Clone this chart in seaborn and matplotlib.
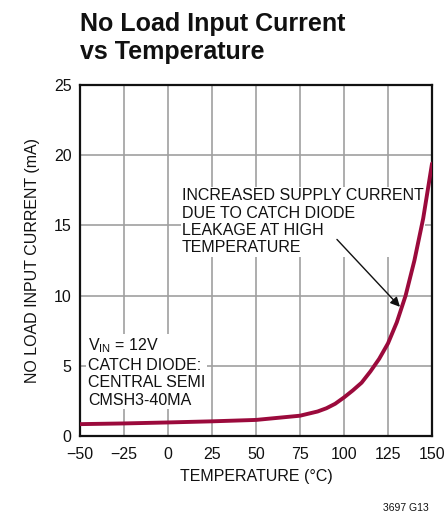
import matplotlib
matplotlib.use("Agg")
import matplotlib.pyplot as plt
import seaborn as sns
import pandas as pd

temperature = [-50, -25, 0, 25, 50, 75, 85, 90, 95, 100, 105, 110, 115, 120, 125, 130, 135, 140, 145, 150]
current_ma = [0.85, 0.9, 0.97, 1.05, 1.15, 1.45, 1.75, 1.98, 2.3, 2.75, 3.25, 3.8, 4.6, 5.5, 6.6, 8.1, 10.0, 12.5, 15.5, 19.4]
x_ticks = [-50, -25, 0, 25, 50, 75, 100, 125, 150]
x_tick_labels = ["\u221250", "\u221225", "0", "25", "50", "75", "100", "125", "150"]
y_ticks = [0, 5, 10, 15, 20, 25]

sns.set_style("white")
plt.rcParams['font.family'] = ['Liberation Sans', 'DejaVu Sans']

fig = plt.figure(figsize=(4.44, 5.21), dpi=100)
ax = fig.add_axes([0.180, 0.163, 0.793, 0.674])

df = pd.DataFrame({"T": temperature, "I": current_ma})
sns.lineplot(data=df, x="T", y="I", ax=ax, color="#9B0A3C", linewidth=2.8, zorder=5)

ax.set_xlim(-50, 150)
ax.set_ylim(0, 25)
ax.set_xticks(x_ticks)
ax.set_yticks(y_ticks)
ax.set_xticklabels(x_tick_labels)
ax.tick_params(axis="both", labelsize=11.5, length=0, colors="#111111")
ax.tick_params(axis="x", pad=8)
ax.tick_params(axis="y", pad=6)
ax.grid(True, color="#a0a0a0", linewidth=1.2, zorder=0)
for s in ax.spines.values():
    s.set_color("#111111")
    s.set_linewidth(1.6)
ax.set_xlabel("TEMPERATURE (\u00b0C)", fontsize=11.5, color="#111111", labelpad=5)
ax.set_ylabel("NO LOAD INPUT CURRENT (mA)", fontsize=11.5, color="#111111", labelpad=10)

fig.text(0.180, 0.977, "No Load Input Current\nvs Temperature", fontsize=18,
         fontweight="bold", va="top", ha="left", linespacing=1.2, color="#111111")

ax.text(-45.5, 4.55, "V$_\\mathregular{IN}$ = 12V\nCATCH DIODE:\nCENTRAL SEMI\nCMSH3-40MA",
        fontsize=11.5, va="center", ha="left", linespacing=1.2, color="#111111",
        bbox=dict(facecolor="white", edgecolor="none", pad=1), zorder=3)

ax.annotate("INCREASED SUPPLY CURRENT\nDUE TO CATCH DIODE\nLEAKAGE AT HIGH\nTEMPERATURE",
            xy=(131.8, 9.2), xytext=(8, 15.25), fontsize=11.5, va="center", ha="left",
            linespacing=1.2, color="#111111",
            bbox=dict(facecolor="white", edgecolor="none", pad=1),
            zorder=4)
ax.annotate("", xy=(131.8, 9.2), xytext=(96, 14.0),
            arrowprops=dict(arrowstyle="-|>", color="#111111", lw=1.0,
                            shrinkA=0, shrinkB=0, mutation_scale=14),
            zorder=4)

fig.text(0.965, 0.015, "3697 G13", fontsize=7.5, ha="right", va="bottom", color="#111111")

fig.savefig("out.png", dpi=100)
